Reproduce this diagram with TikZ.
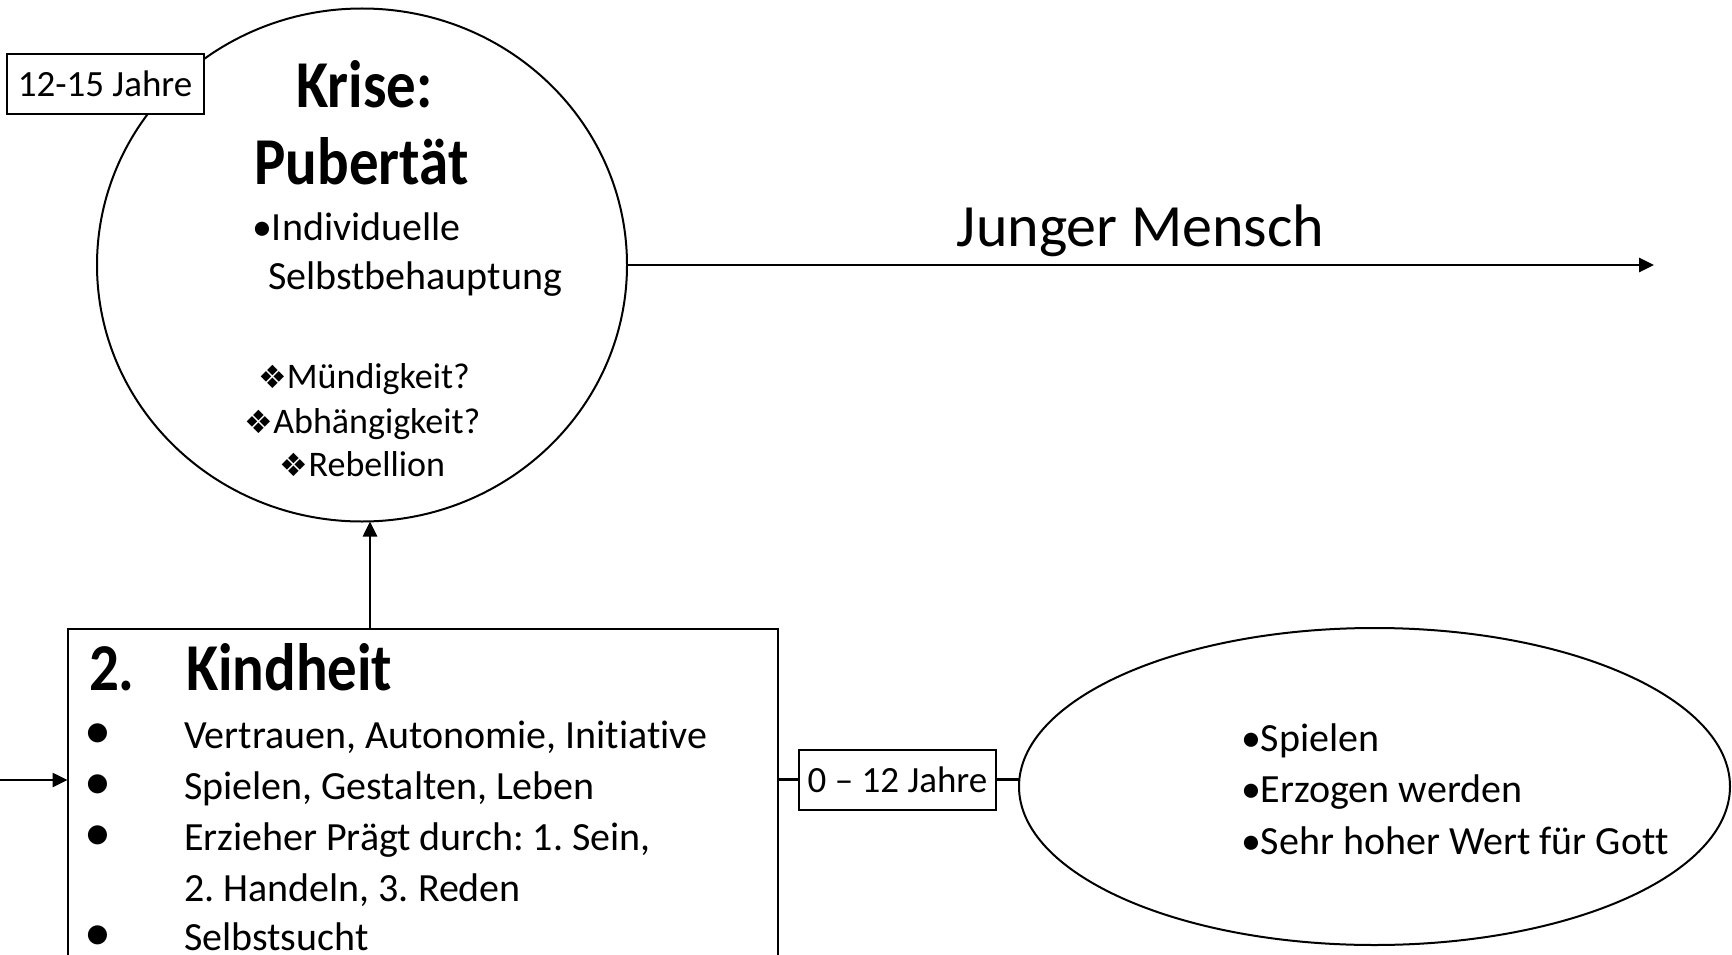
\documentclass[tikz,border=0pt]{standalone}
\usepackage{fontspec}
\setmainfont[RawFeature=-liga]{Carlito}
\newfontfamily\titlefont[FakeStretch=0.88]{Carlito}
\newfontfamily\symfont{DejaVu Sans}
\usetikzlibrary{shapes.geometric,arrows.meta}
\frenchspacing
\begin{document}
\begin{tikzpicture}[x=1pt,y=-1pt,
  outl/.style={draw, line width=2pt, inner sep=0pt, outer sep=0pt},
  tagbox/.style={outl, fill=white, font=\fontsize{37}{44}\selectfont, minimum width=197pt, minimum height=60pt},
  conn/.style={line width=2.6pt},
  arrowc/.style={conn, -{Triangle[length=15pt,width=14pt]}},
  txt/.style={inner sep=0pt, outer sep=0pt, anchor=base west, font=\fontsize{40}{48}\selectfont},
  ctxt/.style={inner sep=0pt, outer sep=0pt, anchor=base, font=\fontsize{36}{42}\selectfont},
  ttl/.style={inner sep=0pt, outer sep=0pt, font=\titlefont\bfseries\fontsize{67}{70}\selectfont},
  big/.style={inner sep=0pt, outer sep=0pt, anchor=base, font=\fontsize{60}{70}\selectfont},
  dot/.style={inner sep=0pt, outer sep=0pt, anchor=base, font=\fontsize{54}{54}\selectfont},
]
\useasboundingbox (0,0) rectangle (1732,955);
\clip (0,0) rectangle (1732,955);

% crisis circle
\node[outl, ellipse, minimum width=530pt, minimum height=513pt] (crisis) at (362,265) {};
\node[tagbox] (agecrisis) at (105,84) {12-15 Jahre};
\node[ttl, anchor=base] (krise) at (364.5,108) {Krise:};
\node[ttl, anchor=base] (pub) at (361.5,184) {Pubertät};
\node[txt] (ind) at (252,240) {•Individuelle};
\node[txt] (selbst) at (268,289) {Selbstbehauptung};
\node[ctxt] (m1) at (364,388) {{\symfont\fontsize{32}{32}\selectfont ❖}Mündigkeit?};
\node[ctxt] (m2) at (362.5,433) {{\symfont\fontsize{32}{32}\selectfont ❖}Abhängigkeit?};
\node[ctxt] (m3) at (362.5,476) {{\symfont\fontsize{32}{32}\selectfont ❖}Rebellion};

% young person arrow
\coordinate (youngend) at (1654,265);
\draw[arrowc] (crisis.east) -- (youngend);
\node[big] (junger) at (1140.5,246) {Junger Mensch};

% childhood box
\node[outl, rectangle, minimum width=710.5pt, minimum height=371pt] (child) at (422.75,814.5) {};
\node[ttl, anchor=base west] (num) at (89,690.5) {2.};
\node[ttl, anchor=base west] (kind) at (186,690.5) {Kindheit};
\node[dot] (b1) at (98,748) {•};
\node[dot] (b2) at (98,799) {•};
\node[dot] (b3) at (98,850) {•};
\node[dot] (b4) at (98,950) {•};
\node[txt] (l1) at (184,748) {Vertrauen, Autonomie, Initiative};
\node[txt] (l2) at (184,799) {Spielen, Gestalten, Leben};
\node[txt] (l3) at (184,850) {Erzieher Prägt durch: 1. Sein,};
\node[txt] (l4) at (184,901) {2. Handeln, 3. Reden};
\node[txt] (l5) at (184,950) {Selbstsucht};

% arrow up
\coordinate (kup) at (370,629);
\draw[arrowc] (kup) -- (kup |- crisis.south);

% arrow in from left
\coordinate (lin) at (0,780);
\draw[arrowc] (lin) -- (lin -| child.west);

% age label and child ellipse
\node[tagbox] (agechild) at (897.5,779.7) {0 – 12 Jahre};
\node[outl, ellipse, minimum width=711pt, minimum height=317pt] (kidell) at (1374.5,786.5) {};
\draw[conn] (agechild.west -| child.east) -- (agechild.west);
\draw[conn] (agechild.east) -- (agechild.east -| kidell.west);
\node[txt] (k1) at (1241,751) {•Spielen};
\node[txt] (k2) at (1241,802.5) {•Erzogen werden};
\node[txt] (k3) at (1241,854) {•Sehr hoher Wert für Gott};
\end{tikzpicture}
\end{document}
